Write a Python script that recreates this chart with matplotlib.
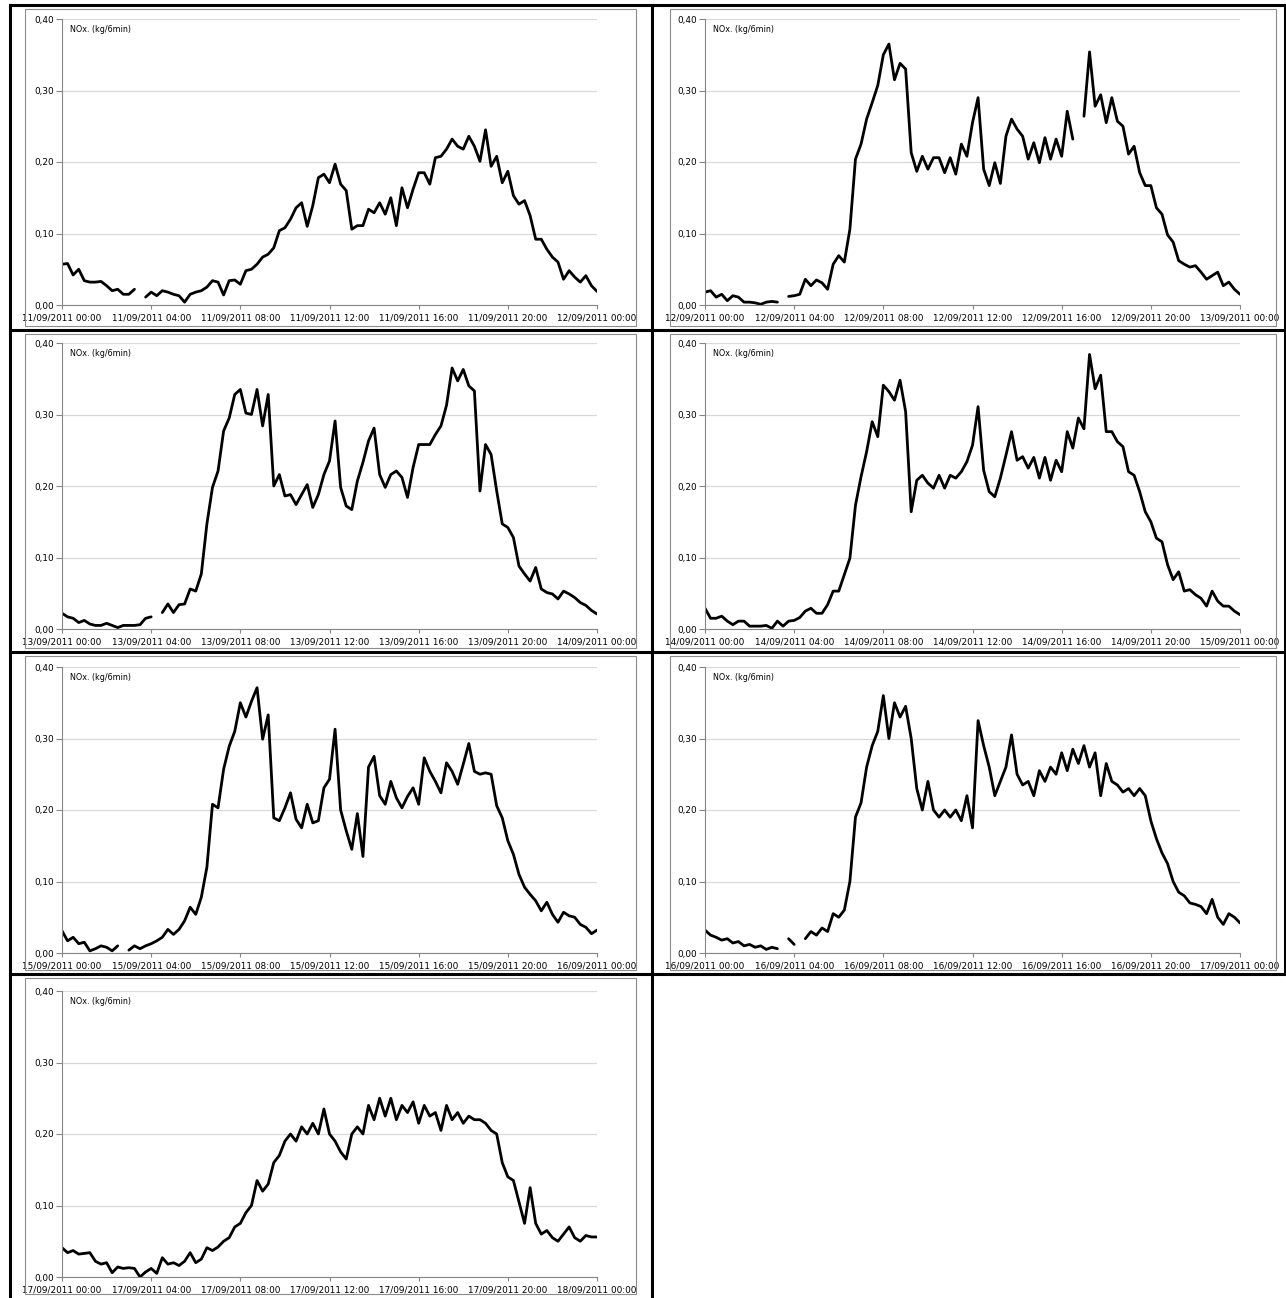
import numpy as np
import matplotlib.pyplot as plt
from matplotlib.lines import Line2D
from matplotlib.patches import Rectangle

plt.rcParams['font.family'] = ['Liberation Sans Narrow', 'DejaVu Sans']

nan = np.nan
# NOx values read every 15 min (4 per hour, last value = 24:00)
nox_11 = [0.057, 0.058, 0.042, 0.050, 0.034, 0.032, 0.032, 0.033, 0.027, 0.020, 0.022, 0.015,
          0.015, 0.022, nan, 0.011, 0.018, 0.013, 0.020, 0.018, 0.015, 0.013, 0.004, 0.015,
          0.018, 0.020, 0.025, 0.034, 0.032, 0.014, 0.034, 0.035, 0.029, 0.048, 0.050, 0.057,
          0.067, 0.071, 0.080, 0.104, 0.108, 0.120, 0.136, 0.143, 0.110, 0.139, 0.178, 0.183,
          0.171, 0.197, 0.169, 0.160, 0.106, 0.111, 0.111, 0.134, 0.129, 0.143, 0.127, 0.150,
          0.111, 0.164, 0.136, 0.162, 0.185, 0.185, 0.169, 0.206, 0.208, 0.218, 0.232, 0.222,
          0.218, 0.236, 0.222, 0.201, 0.245, 0.194, 0.208, 0.171, 0.187, 0.153, 0.141, 0.146,
          0.125, 0.092, 0.092, 0.078, 0.067, 0.060, 0.036, 0.048, 0.039, 0.032, 0.041, 0.027,
          0.019]
nox_12 = [0.018, 0.020, 0.011, 0.015, 0.006, 0.013, 0.011, 0.004, 0.004, 0.003, 0.001, 0.004,
          0.005, 0.004, nan, 0.012, 0.013, 0.015, 0.036, 0.027, 0.035, 0.031, 0.022, 0.057,
          0.069, 0.060, 0.106, 0.204, 0.225, 0.260, 0.283, 0.307, 0.350, 0.365, 0.315, 0.338,
          0.330, 0.213, 0.187, 0.208, 0.190, 0.206, 0.206, 0.185, 0.206, 0.183, 0.225, 0.208,
          0.255, 0.290, 0.190, 0.167, 0.199, 0.170, 0.236, 0.260, 0.246, 0.236, 0.204, 0.227,
          0.199, 0.234, 0.204, 0.232, 0.208, 0.271, 0.232, nan, 0.264, 0.354, 0.278, 0.294,
          0.255, 0.290, 0.257, 0.250, 0.211, 0.222, 0.185, 0.167, 0.167, 0.136, 0.127, 0.098,
          0.088, 0.062, 0.057, 0.053, 0.055, 0.046, 0.036, 0.041, 0.046, 0.027, 0.032, 0.022,
          0.015]
nox_13 = [0.022, 0.017, 0.015, 0.009, 0.012, 0.007, 0.005, 0.005, 0.008, 0.005, 0.002, 0.005,
          0.005, 0.005, 0.006, 0.015, 0.017, nan, 0.023, 0.035, 0.023, 0.034, 0.035, 0.056,
          0.053, 0.077, 0.147, 0.198, 0.221, 0.277, 0.295, 0.328, 0.335, 0.302, 0.300, 0.335,
          0.284, 0.328, 0.200, 0.216, 0.186, 0.188, 0.174, 0.188, 0.202, 0.170, 0.188, 0.216,
          0.235, 0.291, 0.198, 0.172, 0.167, 0.207, 0.233, 0.263, 0.281, 0.216, 0.198, 0.216,
          0.221, 0.212, 0.184, 0.226, 0.258, 0.258, 0.258, 0.272, 0.284, 0.313, 0.365, 0.347,
          0.363, 0.340, 0.333, 0.193, 0.258, 0.244, 0.193, 0.147, 0.142, 0.128, 0.088, 0.077,
          0.067, 0.086, 0.056, 0.051, 0.049, 0.042, 0.053, 0.049, 0.044, 0.037, 0.033, 0.026,
          0.021]
nox_14 = [0.029, 0.015, 0.015, 0.018, 0.011, 0.006, 0.011, 0.011, 0.004, 0.004, 0.004, 0.005,
          0.001, 0.011, 0.004, 0.011, 0.012, 0.016, 0.025, 0.029, 0.022, 0.022, 0.034, 0.053,
          0.053, 0.076, 0.099, 0.173, 0.213, 0.248, 0.290, 0.269, 0.341, 0.332, 0.320, 0.348,
          0.304, 0.164, 0.208, 0.215, 0.204, 0.197, 0.215, 0.197, 0.215, 0.211, 0.220, 0.234,
          0.257, 0.311, 0.222, 0.192, 0.185, 0.211, 0.243, 0.276, 0.236, 0.241, 0.225, 0.240,
          0.211, 0.240, 0.208, 0.236, 0.220, 0.276, 0.253, 0.295, 0.280, 0.384, 0.336, 0.355,
          0.276, 0.276, 0.262, 0.255, 0.220, 0.215, 0.192, 0.164, 0.150, 0.127, 0.122, 0.090,
          0.069, 0.080, 0.053, 0.055, 0.048, 0.043, 0.032, 0.053, 0.039, 0.032, 0.032, 0.025,
          0.020]
nox_15 = [0.031, 0.017, 0.022, 0.013, 0.015, 0.003, 0.006, 0.010, 0.008, 0.003, 0.010, nan,
          0.004, 0.010, 0.006, 0.010, 0.013, 0.017, 0.022, 0.033, 0.026, 0.033, 0.045, 0.064,
          0.054, 0.078, 0.120, 0.208, 0.203, 0.257, 0.289, 0.310, 0.350, 0.330, 0.352, 0.371,
          0.299, 0.333, 0.189, 0.185, 0.203, 0.224, 0.187, 0.175, 0.208, 0.182, 0.185, 0.231,
          0.243, 0.313, 0.200, 0.171, 0.145, 0.195, 0.135, 0.260, 0.275, 0.220, 0.208, 0.240,
          0.217, 0.203, 0.219, 0.231, 0.208, 0.273, 0.254, 0.240, 0.224, 0.266, 0.254, 0.236,
          0.264, 0.293, 0.254, 0.250, 0.252, 0.250, 0.206, 0.189, 0.157, 0.138, 0.110, 0.092,
          0.082, 0.073, 0.059, 0.071, 0.054, 0.043, 0.057, 0.052, 0.050, 0.040, 0.036, 0.027,
          0.032]
nox_16 = [0.032, 0.025, 0.022, 0.018, 0.020, 0.014, 0.016, 0.010, 0.012, 0.008, 0.010, 0.005,
          0.008, 0.006, nan, 0.020, 0.012, nan, 0.020, 0.030, 0.025, 0.035, 0.030, 0.055,
          0.050, 0.060, 0.100, 0.190, 0.210, 0.260, 0.290, 0.310, 0.360, 0.300, 0.350, 0.330,
          0.345, 0.300, 0.230, 0.200, 0.240, 0.200, 0.190, 0.200, 0.190, 0.200, 0.185, 0.220,
          0.175, 0.325, 0.290, 0.260, 0.220, 0.240, 0.260, 0.305, 0.250, 0.235, 0.240, 0.220,
          0.255, 0.240, 0.260, 0.250, 0.280, 0.255, 0.285, 0.265, 0.290, 0.260, 0.280, 0.220,
          0.265, 0.240, 0.235, 0.225, 0.230, 0.220, 0.230, 0.220, 0.185, 0.160, 0.140, 0.125,
          0.100, 0.085, 0.080, 0.070, 0.068, 0.065, 0.055, 0.075, 0.050, 0.040, 0.055, 0.050,
          0.042]
nox_17 = [0.041, 0.034, 0.037, 0.032, 0.033, 0.034, 0.022, 0.018, 0.020, 0.006, 0.014, 0.012,
          0.013, 0.012, 0.000, 0.007, 0.012, 0.005, 0.027, 0.018, 0.020, 0.016, 0.022, 0.034,
          0.020, 0.025, 0.041, 0.037, 0.042, 0.050, 0.055, 0.070, 0.075, 0.090, 0.100, 0.135,
          0.120, 0.130, 0.160, 0.170, 0.190, 0.200, 0.190, 0.210, 0.200, 0.215, 0.200, 0.235,
          0.200, 0.190, 0.175, 0.165, 0.200, 0.210, 0.200, 0.240, 0.220, 0.250, 0.225, 0.250,
          0.220, 0.240, 0.230, 0.245, 0.215, 0.240, 0.225, 0.230, 0.205, 0.240, 0.220, 0.230,
          0.215, 0.225, 0.220, 0.220, 0.215, 0.205, 0.200, 0.160, 0.140, 0.135, 0.105, 0.075,
          0.125, 0.075, 0.060, 0.065, 0.055, 0.050, 0.060, 0.070, 0.055, 0.050, 0.058, 0.056,
          0.056]

days = ['11/09/2011', '12/09/2011', '13/09/2011', '14/09/2011',
        '15/09/2011', '16/09/2011', '17/09/2011', '18/09/2011']
series = [nox_11, nox_12, nox_13, nox_14, nox_15, nox_16, nox_17]
hours = np.arange(97) * 0.25
tick_hours = [0, 4, 8, 12, 16, 20, 24]
y_ticks = [0.0, 0.1, 0.2, 0.3, 0.4]

W, H = 1286, 1298
fig = plt.figure(figsize=(W / 100, H / 100), dpi=100)
fig.patch.set_facecolor('white')

def fx(x):
    return x / W

def fy(y):
    return 1 - y / H

col_x = [62, 705]
row_y = [19, 343, 667, 991]
for i, vals in enumerate(series):
    r, c = divmod(i, 2)
    ax = fig.add_axes([fx(col_x[c]), fy(row_y[r] + 286), 535 / W, 286 / H])
    ax.plot(hours, vals, color='black', lw=2.0, solid_joinstyle='round', solid_capstyle='round')
    ax.set_xlim(0, 24)
    ax.set_ylim(0, 0.4)
    ax.set_yticks(y_ticks)
    ax.set_yticklabels([('%.2f' % v).replace('.', ',') for v in y_ticks])
    ax.set_xticks(tick_hours)
    labels = ['%s %02d:00' % (days[i], h) for h in tick_hours[:-1]]
    labels.append('%s 00:00' % days[i + 1])
    ax.set_xticklabels(labels)
    ax.grid(axis='y', color='#d9d9d9', lw=0.9)
    ax.set_axisbelow(True)
    for s in ['top', 'right']:
        ax.spines[s].set_visible(False)
    for s in ['left', 'bottom']:
        ax.spines[s].set_color('#868686')
        ax.spines[s].set_linewidth(0.8)
    ax.tick_params(axis='both', colors='#868686', labelcolor='black', labelsize=6.4, width=0.8)
    ax.tick_params(axis='y', length=4, pad=2)
    ax.tick_params(axis='x', length=3, pad=3)
    ax.text(0.015, 0.962, 'NOx. (kg/6min)', transform=ax.transAxes, fontsize=5.8,
            color='black', va='center', ha='left')

# grey chart frames
frame_x = [(25, 636), (670, 1276)]
cell_y = [5, 330, 652, 974, 1298]
for r in range(4):
    for c in range(2):
        if r == 3 and c == 1:
            continue
        x0, x1 = frame_x[c]
        y0, y1 = cell_y[r] + 4, cell_y[r + 1] - 4
        fig.add_artist(Rectangle((fx(x0), fy(y1)), (x1 - x0) / W, (y1 - y0) / H,
                                 transform=fig.transFigure, fill=False,
                                 ec='#8c8c8c', lw=0.8))

# black table borders
for y in cell_y[:4]:
    fig.add_artist(Line2D([fx(10), fx(1286)], [fy(y), fy(y)], transform=fig.transFigure,
                          color='black', lw=2.2))
fig.add_artist(Line2D([fx(10), fx(10)], [fy(5), fy(1298)], transform=fig.transFigure,
                      color='black', lw=2.2))
fig.add_artist(Line2D([fx(652), fx(652)], [fy(5), fy(1298)], transform=fig.transFigure,
                      color='black', lw=2.2))
fig.add_artist(Line2D([fx(1285), fx(1285)], [fy(5), fy(974)], transform=fig.transFigure,
                      color='black', lw=2.2))

fig.savefig('out.png', dpi=100)
